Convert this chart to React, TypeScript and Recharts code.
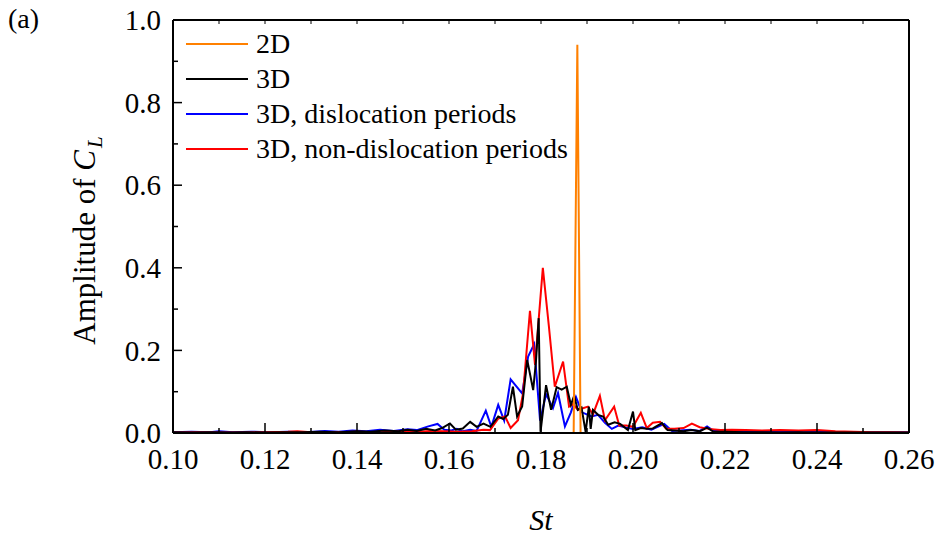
import { LineChart, Line, XAxis, YAxis, Legend, Label } from "recharts";

const FONT = "Liberation Serif, Tinos, Times New Roman, Times, DejaVu Serif, serif";

// Spectra as [St, amplitude] pairs
const spectrum2D: [number, number][] = [
  [0.1, 0], [0.1871, 0], [0.1879, 0.94], [0.1886, 0], [0.26, 0],
];

const spectrum3D: [number, number][] = [
  [0.1, 0.002], [0.104, 0.001], [0.108, 0.002], [0.112, 0.001], [0.116, 0.002],
  [0.12, 0.001], [0.124, 0.002], [0.128, 0.002], [0.132, 0.003], [0.136, 0.002],
  [0.14, 0.004], [0.143, 0.003], [0.146, 0.006], [0.149, 0.004], [0.151, 0.008],
  [0.153, 0.005], [0.155, 0.01], [0.157, 0.006], [0.1585, 0.012], [0.1602, 0.023],
  [0.1615, 0.008], [0.163, 0.011], [0.1646, 0.027], [0.166, 0.015], [0.1675, 0.023],
  [0.169, 0.015], [0.1707, 0.04], [0.1718, 0.034], [0.1728, 0.044], [0.1739, 0.112],
  [0.1748, 0.04], [0.1759, 0.064], [0.177, 0.177], [0.1783, 0.104], [0.1789, 0.173],
  [0.1795, 0.278], [0.1799, 0.003], [0.1811, 0.116], [0.1822, 0.056], [0.1834, 0.111],
  [0.1845, 0.105], [0.1856, 0.112], [0.1865, 0.068], [0.1872, 0.09], [0.188, 0.056],
  [0.1888, 0.062], [0.1897, 0.003], [0.1904, 0.064], [0.1908, 0.01], [0.1913, 0.056],
  [0.1924, 0.044], [0.1935, 0.04], [0.1946, 0.02], [0.196, 0.026], [0.1972, 0.022],
  [0.1989, 0.007], [0.2, 0.052], [0.2005, 0.007], [0.2017, 0.012], [0.203, 0.01],
  [0.2043, 0.011], [0.2063, 0.024], [0.2075, 0.007], [0.209, 0.006], [0.211, 0.004],
  [0.2128, 0.007], [0.2145, 0.004], [0.2161, 0.013], [0.2175, 0.003], [0.22, 0.003],
  [0.224, 0.002], [0.228, 0.002], [0.232, 0.001], [0.236, 0.002], [0.24, 0.001],
  [0.245, 0.001], [0.25, 0.001], [0.255, 0.001], [0.26, 0.001],
];

const spectrumDislocation: [number, number][] = [
  [0.1, 0.002], [0.104, 0.003], [0.108, 0.002], [0.11, 0.004], [0.113, 0.002],
  [0.117, 0.003], [0.121, 0.002], [0.125, 0.003], [0.129, 0.002], [0.133, 0.005],
  [0.136, 0.003], [0.139, 0.006], [0.142, 0.004], [0.145, 0.008], [0.148, 0.005],
  [0.151, 0.009], [0.153, 0.007], [0.1555, 0.016], [0.1575, 0.022], [0.159, 0.008],
  [0.1605, 0.006], [0.1617, 0.01], [0.163, 0.004], [0.1646, 0.008], [0.166, 0.005],
  [0.168, 0.054], [0.1692, 0.015], [0.1707, 0.068], [0.172, 0.03], [0.1734, 0.13],
  [0.1759, 0.096], [0.1772, 0.185], [0.1785, 0.215], [0.1798, 0.03], [0.1811, 0.094],
  [0.1826, 0.06], [0.1837, 0.097], [0.1852, 0.016], [0.1865, 0.05], [0.1876, 0.087],
  [0.1889, 0.05], [0.191, 0.04], [0.1924, 0.044], [0.1939, 0.025], [0.1954, 0.01],
  [0.1968, 0.018], [0.1985, 0.013], [0.2, 0.01], [0.202, 0.014], [0.204, 0.008],
  [0.2068, 0.022], [0.2085, 0.005], [0.21, 0.006], [0.2125, 0.008], [0.2145, 0.005],
  [0.2161, 0.016], [0.2175, 0.005], [0.22, 0.006], [0.2215, 0.004], [0.225, 0.004],
  [0.229, 0.003], [0.233, 0.004], [0.237, 0.002], [0.241, 0.003], [0.245, 0.002],
  [0.25, 0.002], [0.255, 0.002], [0.26, 0.002],
];

const spectrumNonDislocation: [number, number][] = [
  [0.1, 0.001], [0.105, 0.002], [0.11, 0.001], [0.115, 0.001], [0.12, 0.002],
  [0.125, 0.003], [0.127, 0.004], [0.13, 0.002], [0.135, 0.002], [0.14, 0.003],
  [0.145, 0.002], [0.15, 0.004], [0.153, 0.003], [0.156, 0.005], [0.159, 0.004],
  [0.162, 0.003], [0.165, 0.004], [0.1675, 0.008], [0.1689, 0.007], [0.1707, 0.035],
  [0.1722, 0.04], [0.1734, 0.012], [0.175, 0.031], [0.1761, 0.096], [0.1776, 0.296],
  [0.1787, 0.165], [0.1804, 0.4], [0.1817, 0.26], [0.183, 0.112], [0.1848, 0.173],
  [0.1861, 0.064], [0.187, 0.07], [0.188, 0.056], [0.1891, 0.06], [0.1902, 0.064],
  [0.1913, 0.045], [0.1928, 0.09], [0.1939, 0.031], [0.1959, 0.064], [0.197, 0.018],
  [0.1985, 0.018], [0.2, 0.015], [0.2017, 0.049], [0.203, 0.012], [0.2043, 0.025],
  [0.2059, 0.027], [0.2072, 0.01], [0.209, 0.01], [0.211, 0.012], [0.2128, 0.023],
  [0.2145, 0.014], [0.2165, 0.01], [0.219, 0.007], [0.2215, 0.008], [0.2245, 0.007],
  [0.228, 0.006], [0.232, 0.007], [0.236, 0.006], [0.24, 0.007], [0.244, 0.004],
  [0.248, 0.003], [0.252, 0.002], [0.256, 0.002], [0.26, 0.001],
];

const stTicks = [
  0.1, 0.11, 0.12, 0.13, 0.14, 0.15, 0.16, 0.17, 0.18,
  0.19, 0.2, 0.21, 0.22, 0.23, 0.24, 0.25, 0.26,
];
const ampTicks = [0, 0.1, 0.2, 0.3, 0.4, 0.5, 0.6, 0.7, 0.8, 0.9, 1.0];

// legend order
const series = [
  { name: "2D", color: "#FF8000", points: spectrum2D },
  { name: "3D", color: "#000000", points: spectrum3D },
  { name: "3D, dislocation periods", color: "#0000FF", points: spectrumDislocation },
  { name: "3D, non-dislocation periods", color: "#FF0000", points: spectrumNonDislocation },
];

const toRows = (pts: [number, number][]) => pts.map(([st, amp]) => ({ st, amp }));

// drawing order: blue, red, black, orange on top
const drawOrder = [2, 3, 1, 0];

const TICK_FONT = 29;

const BottomTick = ({ x, y, payload }: any) => {
  const v: number = payload.value;
  const major = Math.round(v * 100) % 2 === 0;
  return (
    <g>
      <line x1={x} x2={x} y1={y} y2={y - (major ? 10 : 5)} stroke="#000" strokeWidth={1.5} />
      {major && (
        <text x={x} y={y + 36} textAnchor="middle" fontFamily={FONT} fontSize={TICK_FONT} fill="#000">
          {v.toFixed(2)}
        </text>
      )}
    </g>
  );
};

const TopTick = ({ x, y }: any) => (
  <line x1={x} x2={x} y1={y} y2={y + 4} stroke="#000" strokeWidth={1} />
);

const LeftTick = ({ x, y, payload }: any) => {
  const v: number = payload.value;
  const major = Math.round(v * 10) % 2 === 0;
  return (
    <g>
      <line x1={x} x2={x + (major ? 9 : 5)} y1={y} y2={y} stroke="#000" strokeWidth={1.5} />
      {major && (
        <text x={x - 12} y={y} dy="0.35em" textAnchor="end" fontFamily={FONT} fontSize={TICK_FONT} fill="#000">
          {v.toFixed(1)}
        </text>
      )}
    </g>
  );
};

const YTitle = ({ viewBox }: any) => {
  const vb = viewBox ?? { x: 0, y: 20, width: 173, height: 413 };
  const bx = vb.x + 95;
  const cy = vb.y + vb.height / 2 + 14;
  return (
    <text
      x={bx}
      y={cy}
      textAnchor="middle"
      transform={`rotate(-90, ${bx}, ${cy})`}
      fontFamily={FONT}
      fontSize={31}
      fill="#000"
    >
      Amplitude of <tspan fontStyle="italic">C</tspan>
      <tspan fontStyle="italic" fontSize={21} dy={7} dx={2}>L</tspan>
    </text>
  );
};

const XTitle = ({ viewBox }: any) => {
  const vb = viewBox ?? { x: 173, y: 433, width: 736, height: 106 };
  return (
    <text
      x={vb.x + vb.width / 2}
      y={vb.y + 97}
      textAnchor="middle"
      fontFamily={FONT}
      fontSize={30}
      fontStyle="italic"
      fill="#000"
    >
      St
    </text>
  );
};

const LegendBox = () => (
  <div style={{ fontFamily: FONT, fontSize: 28, color: "#000" }}>
    {series.map((s) => (
      <div key={s.name} style={{ display: "flex", alignItems: "center", height: 35, whiteSpace: "nowrap" }}>
        <svg width={62} height={4} style={{ display: "block" }}>
          <line x1={0} x2={62} y1={2} y2={2} stroke={s.color} strokeWidth={2} />
        </svg>
        <span style={{ marginLeft: 8 }}>{s.name}</span>
      </div>
    ))}
  </div>
);

export default function App() {
  return (
    <div style={{ position: "fixed", left: 0, top: 0, width: 939, height: 539, background: "#fff" }}>
      <div
        style={{
          position: "absolute",
          left: 8,
          top: 5,
          fontFamily: FONT,
          fontSize: 28,
          lineHeight: "28px",
          color: "#000",
        }}
      >
        (a)
      </div>
      <LineChart width={939} height={539} margin={{ top: 19, right: 29, bottom: 0, left: 0 }}>
        <XAxis
          dataKey="st"
          type="number"
          domain={[0.1, 0.26]}
          allowDataOverflow
          ticks={stTicks}
          interval={0}
          height={106}
          tickSize={0}
          tickMargin={0}
          tickLine={false}
          tick={<BottomTick />}
          axisLine={{ stroke: "#000", strokeWidth: 2 }}
        >
          <Label content={<XTitle />} />
        </XAxis>
        <XAxis
          xAxisId="top"
          orientation="top"
          dataKey="st"
          type="number"
          domain={[0.1, 0.26]}
          allowDataOverflow
          ticks={stTicks}
          interval={0}
          height={1}
          tickSize={0}
          tickMargin={0}
          tickLine={false}
          tick={<TopTick />}
          axisLine={{ stroke: "#000", strokeWidth: 2 }}
        />
        <YAxis
          type="number"
          domain={[0, 1]}
          allowDataOverflow
          ticks={ampTicks}
          interval={0}
          width={173}
          tickSize={0}
          tickMargin={0}
          tickLine={false}
          tick={<LeftTick />}
          axisLine={{ stroke: "#000", strokeWidth: 2 }}
        >
          <Label content={<YTitle />} />
        </YAxis>
        <YAxis
          yAxisId="right"
          orientation="right"
          type="number"
          domain={[0, 1]}
          width={1}
          tick={false}
          tickLine={false}
          axisLine={{ stroke: "#000", strokeWidth: 2 }}
        />
        {drawOrder.map((i) => {
          const s = series[i];
          return (
            <Line
              key={s.name}
              name={s.name}
              data={toRows(s.points)}
              dataKey="amp"
              type="linear"
              stroke={s.color}
              strokeWidth={2}
              dot={false}
              activeDot={false}
              isAnimationActive={false}
            />
          );
        })}
        <Legend
          layout="vertical"
          align="center"
          verticalAlign="middle"
          content={<LegendBox />}
          wrapperStyle={{ left: 186, top: 26, width: "auto", height: "auto" }}
        />
      </LineChart>
    </div>
  );
}
